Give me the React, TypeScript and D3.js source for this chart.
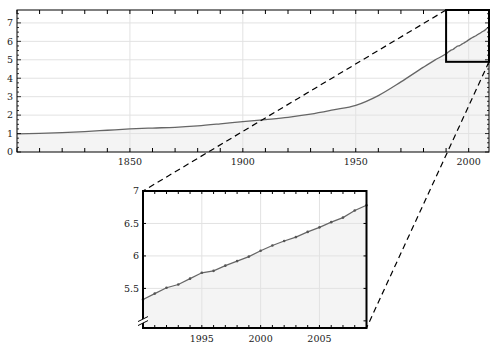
import React from 'react';
import * as d3 from 'd3';

// Historical world population (billions)
const histYears = [1800, 1810, 1820, 1830, 1840, 1850, 1860, 1870, 1880, 1890, 1900, 1910, 1920, 1930, 1940, 1950, 1960, 1970, 1980, 1985];
const histValues = [0.98, 1.01, 1.05, 1.11, 1.18, 1.25, 1.30, 1.34, 1.42, 1.53, 1.65, 1.76, 1.88, 2.05, 2.28, 2.53, 3.06, 3.8, 4.6, 4.98];

// Recent yearly values (zoomed)
const recentYears = [1990, 1991, 1992, 1993, 1994, 1995, 1996, 1997, 1998, 1999, 2000, 2001, 2002, 2003, 2004, 2005, 2006, 2007, 2008, 2009];
const recentValues = [5.33, 5.42, 5.51, 5.56, 5.65, 5.74, 5.77, 5.85, 5.92, 5.99, 6.08, 6.16, 6.23, 6.29, 6.37, 6.44, 6.52, 6.59, 6.70, 6.78];

const mainXTicks = [1850, 1900, 1950, 2000];
const mainYTicks = [0, 1, 2, 3, 4, 5, 6, 7];
const insetXTicks = [1995, 2000, 2005];
const insetYTicks = [5.5, 6, 6.5, 7];

const FONT = 'DejaVu Serif, Liberation Serif, serif';

export default function App() {
  const W = 500, H = 353;
  const xMain = d3.scaleLinear().domain([1800, 2009]).range([17, 489]);
  const yMain = d3.scaleLinear().domain([0, 7.7]).range([152, 10]);
  const xIn = d3.scaleLinear().domain([1990, 2009]).range([143, 366.5]);
  const yIn = d3.scaleLinear().domain([4.89, 7]).range([328, 191]);

  const mainData = histYears.map((y, i) => [y, histValues[i]] as [number, number])
    .concat(recentYears.map((y, i) => [y, recentValues[i]] as [number, number]));
  const inData = recentYears.map((y, i) => [y, recentValues[i]] as [number, number]);

  const mainLine = d3.line<[number, number]>().x(d => xMain(d[0])).y(d => yMain(d[1])).curve(d3.curveMonotoneX);
  const mainArea = d3.area<[number, number]>().x(d => xMain(d[0])).y0(yMain(0)).y1(d => yMain(d[1])).curve(d3.curveMonotoneX);
  const inLine = d3.line<[number, number]>().x(d => xIn(d[0])).y(d => yIn(d[1]));
  const inArea = d3.area<[number, number]>().x(d => xIn(d[0])).y0(yIn(4.89)).y1(d => yIn(d[1]));

  const [mx0, mx1] = xMain.range();
  const [my0, my1] = [yMain(0), yMain(7.7)];
  const [ix0, ix1] = xIn.range();
  const [iy0, iy1] = [yIn(4.89), yIn(7)];

  const decadeTicks = d3.range(1800, 2010, 10);
  const minorY = d3.range(0, 7.7, 0.25);
  const yearTicks = d3.range(1991, 2009, 1);
  const insetYAll = [5, 5.5, 6, 6.5];

  // zoom box in main chart
  const bx0 = xMain(1990), bx1 = xMain(2009);
  const by0 = yMain(7.7), by1 = yMain(4.89);

  const grid = '#e2e2e2';
  const lineC = '#666';
  const txt = { fontFamily: FONT, fontSize: 9.5, fill: '#222' } as const;

  return (
    <svg width={W} height={H} style={{ position: 'absolute', left: 0, top: 0, background: '#fff' }}>
      <defs>
        <clipPath id="mainClip"><rect x={mx0} y={my1} width={mx1 - mx0} height={my0 - my1} /></clipPath>
      </defs>
      <path d={mainArea(mainData) || ''} fill="#f4f4f4" clipPath="url(#mainClip)" />
      {mainYTicks.filter(v => v > 0).map(v => (
        <line key={'gy' + v} x1={mx0} x2={mx1} y1={yMain(v)} y2={yMain(v)} stroke={grid} strokeWidth={1} />
      ))}
      {mainXTicks.map(v => (
        <line key={'gx' + v} x1={xMain(v)} x2={xMain(v)} y1={my0} y2={my1} stroke={grid} strokeWidth={1} />
      ))}
      <path d={mainLine(mainData) || ''} fill="none" stroke={lineC} strokeWidth={1.3} clipPath="url(#mainClip)" />
      {decadeTicks.map(v => (
        <g key={'dt' + v}>
          <line x1={xMain(v)} x2={xMain(v)} y1={my0} y2={my0 - 4} stroke="#000" strokeWidth={1} />
          <line x1={xMain(v)} x2={xMain(v)} y1={my1} y2={my1 + 4} stroke="#000" strokeWidth={1} />
        </g>
      ))}
      {minorY.map(v => {
        const major = Math.abs(v - Math.round(v)) < 1e-6;
        const len = major ? 4 : 2;
        return (
          <g key={'my' + v}>
            <line x1={mx0} x2={mx0 + len} y1={yMain(v)} y2={yMain(v)} stroke="#000" strokeWidth={0.8} />
            <line x1={mx1} x2={mx1 - len} y1={yMain(v)} y2={yMain(v)} stroke="#000" strokeWidth={0.8} />
          </g>
        );
      })}
      <rect x={mx0} y={my1} width={mx1 - mx0} height={my0 - my1} fill="none" stroke="#000" strokeWidth={1} />
      {mainXTicks.map(v => (
        <text key={'xl' + v} x={xMain(v)} y={165} textAnchor="middle" {...txt}>{v}</text>
      ))}
      {mainYTicks.map(v => (
        <text key={'yl' + v} x={13} y={yMain(v)} dy="0.35em" textAnchor="end" {...txt}>{v}</text>
      ))}
      <rect x={bx0} y={by0} width={bx1 - bx0} height={by1 - by0} fill="none" stroke="#000" strokeWidth={2} />

      {/* Inset */}
      <rect x={ix0} y={iy1} width={ix1 - ix0} height={iy0 - iy1} fill="#fff" />
      <path d={inArea(inData) || ''} fill="#f4f4f4" />
      {insetYTicks.filter(v => v < 7).map(v => (
        <line key={'igy' + v} x1={ix0} x2={ix1} y1={yIn(v)} y2={yIn(v)} stroke={grid} strokeWidth={1} />
      ))}
      {insetXTicks.map(v => (
        <line key={'igx' + v} x1={xIn(v)} x2={xIn(v)} y1={iy0} y2={iy1} stroke={grid} strokeWidth={1} />
      ))}
      <path d={inLine(inData) || ''} fill="none" stroke={lineC} strokeWidth={1.2} />
      {inData.map(d => (
        <circle key={'pt' + d[0]} cx={xIn(d[0])} cy={yIn(d[1])} r={1.3} fill="#555" />
      ))}
      {yearTicks.map(v => (
        <g key={'yt' + v}>
          <line x1={xIn(v)} x2={xIn(v)} y1={iy0} y2={iy0 - 3} stroke="#000" strokeWidth={1} />
          <line x1={xIn(v)} x2={xIn(v)} y1={iy1} y2={iy1 + 3} stroke="#000" strokeWidth={1} />
        </g>
      ))}
      {insetYAll.map(v => (
        <g key={'iyt' + v}>
          <line x1={ix0} x2={ix0 + 3} y1={yIn(v)} y2={yIn(v)} stroke="#000" strokeWidth={1} />
          <line x1={ix1} x2={ix1 - 3} y1={yIn(v)} y2={yIn(v)} stroke="#000" strokeWidth={1} />
        </g>
      ))}
      <rect x={ix0} y={iy1} width={ix1 - ix0} height={iy0 - iy1} fill="none" stroke="#000" strokeWidth={2} />
      {/* axis break marks */}
      <polygon points={`${ix0 - 5},${yIn(5.02) + 2} ${ix0 + 5},${yIn(5.02) - 3} ${ix0 + 5},${yIn(5.02) + 1} ${ix0 - 5},${yIn(5.02) + 6}`} fill="#fff" />
      <line x1={ix0 - 5} y1={yIn(5.02) + 2} x2={ix0 + 5} y2={yIn(5.02) - 3} stroke="#000" strokeWidth={1} />
      <line x1={ix0 - 5} y1={yIn(5.02) + 6} x2={ix0 + 5} y2={yIn(5.02) + 1} stroke="#000" strokeWidth={1} />
      {insetXTicks.map(v => (
        <text key={'ixl' + v} x={xIn(v)} y={342} textAnchor="middle" {...txt}>{v}</text>
      ))}
      {insetYTicks.map(v => (
        <text key={'iyl' + v} x={139} y={yIn(v)} dy="0.35em" textAnchor="end" {...txt}>{v}</text>
      ))}

      {/* connector dashed lines */}
      <line x1={bx0} y1={by0} x2={ix0} y2={iy1} stroke="#000" strokeWidth={1.2} strokeDasharray="6,4" />
      <line x1={bx1} y1={by1} x2={ix1} y2={iy0} stroke="#000" strokeWidth={1.2} strokeDasharray="6,4" />
    </svg>
  );
}
